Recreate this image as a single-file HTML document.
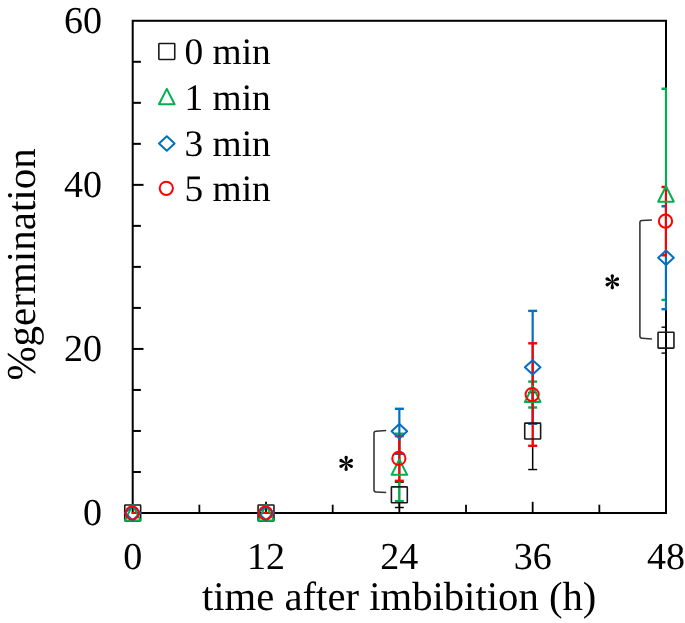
<!DOCTYPE html>
<html><head><meta charset="utf-8"><style>html,body{margin:0;padding:0;background:#fff;}body{width:685px;height:623px;overflow:hidden;font-family:"Liberation Serif",serif;}svg{display:block;will-change:transform;}text{text-rendering:geometricPrecision;}</style></head><body>
<svg width="685" height="623" viewBox="0 0 685 623" style="font-family:'Liberation Serif',serif" fill="#000">
<defs><clipPath id="pc"><rect x="131.70" y="20.78" width="535.30" height="493.22"/></clipPath></defs>
<rect x="132.70" y="20.78" width="533.30" height="492.22" fill="none" stroke="#000" stroke-width="2"/>
<line x1="132.70" y1="471.98" x2="140.90" y2="471.98" stroke="#000" stroke-width="2"/>
<line x1="132.70" y1="430.96" x2="140.90" y2="430.96" stroke="#000" stroke-width="2"/>
<line x1="132.70" y1="389.95" x2="140.90" y2="389.95" stroke="#000" stroke-width="2"/>
<line x1="132.70" y1="348.93" x2="143.50" y2="348.93" stroke="#000" stroke-width="2"/>
<line x1="132.70" y1="307.91" x2="140.90" y2="307.91" stroke="#000" stroke-width="2"/>
<line x1="132.70" y1="266.89" x2="140.90" y2="266.89" stroke="#000" stroke-width="2"/>
<line x1="132.70" y1="225.87" x2="140.90" y2="225.87" stroke="#000" stroke-width="2"/>
<line x1="132.70" y1="184.86" x2="143.50" y2="184.86" stroke="#000" stroke-width="2"/>
<line x1="132.70" y1="143.84" x2="140.90" y2="143.84" stroke="#000" stroke-width="2"/>
<line x1="132.70" y1="102.82" x2="140.90" y2="102.82" stroke="#000" stroke-width="2"/>
<line x1="132.70" y1="61.80" x2="140.90" y2="61.80" stroke="#000" stroke-width="2"/>
<line x1="199.36" y1="513.00" x2="199.36" y2="504.70" stroke="#000" stroke-width="1.8"/>
<line x1="266.02" y1="513.00" x2="266.02" y2="501.80" stroke="#000" stroke-width="1.8"/>
<line x1="332.69" y1="513.00" x2="332.69" y2="504.70" stroke="#000" stroke-width="1.8"/>
<line x1="399.35" y1="513.00" x2="399.35" y2="501.80" stroke="#000" stroke-width="1.8"/>
<line x1="466.01" y1="513.00" x2="466.01" y2="504.70" stroke="#000" stroke-width="1.8"/>
<line x1="532.67" y1="513.00" x2="532.67" y2="501.80" stroke="#000" stroke-width="1.8"/>
<line x1="599.34" y1="513.00" x2="599.34" y2="504.70" stroke="#000" stroke-width="1.8"/>
<text x="101.9" y="32.5" text-anchor="end" font-size="38">60</text>
<text x="101.9" y="197.0" text-anchor="end" font-size="38">40</text>
<text x="101.9" y="361.1" text-anchor="end" font-size="38">20</text>
<text x="101.9" y="524.8" text-anchor="end" font-size="38">0</text>
<text x="132.70" y="569" text-anchor="middle" font-size="38">0</text>
<text x="266.02" y="569" text-anchor="middle" font-size="38">12</text>
<text x="399.35" y="569" text-anchor="middle" font-size="38">24</text>
<text x="532.67" y="569" text-anchor="middle" font-size="38">36</text>
<text x="666.00" y="569" text-anchor="middle" font-size="38">48</text>
<text x="202" y="610.1" font-size="40.7">time after imbibition (h)</text>
<text transform="translate(34.9,380.6) rotate(-90)" font-size="41">%germination</text>
<g clip-path="url(#pc)"><line x1="129.70" y1="513.00" x2="135.70" y2="513.00" stroke="#FF0000" stroke-width="2.4"/><line x1="263.02" y1="513.00" x2="269.02" y2="513.00" stroke="#FF0000" stroke-width="2.4"/><line x1="399.35" y1="482.10" x2="399.35" y2="507.50" stroke="#000" stroke-width="1.5"/><line x1="394.85" y1="482.10" x2="403.85" y2="482.10" stroke="#000" stroke-width="1.4"/><line x1="394.85" y1="507.50" x2="403.85" y2="507.50" stroke="#000" stroke-width="1.4"/><line x1="399.35" y1="433.70" x2="399.35" y2="501.20" stroke="#00B050" stroke-width="2.2"/><line x1="394.85" y1="433.70" x2="403.85" y2="433.70" stroke="#00B050" stroke-width="2.4"/><line x1="394.85" y1="501.20" x2="403.85" y2="501.20" stroke="#00B050" stroke-width="2.4"/><line x1="399.35" y1="408.80" x2="399.35" y2="453.80" stroke="#0070C0" stroke-width="2.2"/><line x1="394.85" y1="408.80" x2="403.85" y2="408.80" stroke="#0070C0" stroke-width="2.4"/><line x1="394.85" y1="453.80" x2="403.85" y2="453.80" stroke="#0070C0" stroke-width="2.4"/><line x1="399.35" y1="436.10" x2="399.35" y2="480.80" stroke="#FF0000" stroke-width="2.2"/><line x1="394.85" y1="436.10" x2="403.85" y2="436.10" stroke="#FF0000" stroke-width="2.4"/><line x1="394.85" y1="480.80" x2="403.85" y2="480.80" stroke="#FF0000" stroke-width="2.4"/><line x1="532.67" y1="392.55" x2="532.67" y2="469.55" stroke="#000" stroke-width="1.5"/><line x1="528.17" y1="392.55" x2="537.17" y2="392.55" stroke="#000" stroke-width="1.4"/><line x1="528.17" y1="469.55" x2="537.17" y2="469.55" stroke="#000" stroke-width="1.4"/><line x1="532.67" y1="381.60" x2="532.67" y2="407.50" stroke="#00B050" stroke-width="2.2"/><line x1="528.17" y1="381.60" x2="537.17" y2="381.60" stroke="#00B050" stroke-width="2.4"/><line x1="528.17" y1="407.50" x2="537.17" y2="407.50" stroke="#00B050" stroke-width="2.4"/><line x1="532.67" y1="310.90" x2="532.67" y2="423.80" stroke="#0070C0" stroke-width="2.2"/><line x1="528.17" y1="310.90" x2="537.17" y2="310.90" stroke="#0070C0" stroke-width="2.4"/><line x1="528.17" y1="423.80" x2="537.17" y2="423.80" stroke="#0070C0" stroke-width="2.4"/><line x1="532.67" y1="343.30" x2="532.67" y2="445.80" stroke="#FF0000" stroke-width="2.2"/><line x1="528.17" y1="343.30" x2="537.17" y2="343.30" stroke="#FF0000" stroke-width="2.4"/><line x1="528.17" y1="445.80" x2="537.17" y2="445.80" stroke="#FF0000" stroke-width="2.4"/><line x1="666.00" y1="327.20" x2="666.00" y2="353.10" stroke="#000" stroke-width="1.5"/><line x1="661.50" y1="327.20" x2="670.50" y2="327.20" stroke="#000" stroke-width="1.4"/><line x1="661.50" y1="353.10" x2="670.50" y2="353.10" stroke="#000" stroke-width="1.4"/><line x1="666.00" y1="88.70" x2="666.00" y2="299.90" stroke="#00B050" stroke-width="2.2"/><line x1="661.50" y1="88.70" x2="670.50" y2="88.70" stroke="#00B050" stroke-width="2.4"/><line x1="661.50" y1="299.90" x2="670.50" y2="299.90" stroke="#00B050" stroke-width="2.4"/><line x1="666.00" y1="206.30" x2="666.00" y2="309.20" stroke="#0070C0" stroke-width="2.2"/><line x1="661.50" y1="206.30" x2="670.50" y2="206.30" stroke="#0070C0" stroke-width="2.4"/><line x1="661.50" y1="309.20" x2="670.50" y2="309.20" stroke="#0070C0" stroke-width="2.4"/><line x1="666.00" y1="187.00" x2="666.00" y2="255.30" stroke="#FF0000" stroke-width="2.2"/><line x1="661.50" y1="187.00" x2="670.50" y2="187.00" stroke="#FF0000" stroke-width="2.4"/><line x1="661.50" y1="255.30" x2="670.50" y2="255.30" stroke="#FF0000" stroke-width="2.4"/></g>
<rect x="124.75" y="505.05" width="15.9" height="15.9" rx="0.6" fill="none" stroke="#1a1a1a" stroke-width="1.6"/>
<rect x="258.07" y="505.05" width="15.9" height="15.9" rx="0.6" fill="none" stroke="#1a1a1a" stroke-width="1.6"/>
<rect x="391.40" y="486.85" width="15.9" height="15.9" rx="0.6" fill="none" stroke="#1a1a1a" stroke-width="1.6"/>
<rect x="524.72" y="423.10" width="15.9" height="15.9" rx="0.6" fill="none" stroke="#1a1a1a" stroke-width="1.6"/>
<rect x="658.05" y="332.20" width="15.9" height="15.9" rx="0.6" fill="none" stroke="#1a1a1a" stroke-width="1.6"/>
<path d="M132.70 505.00L140.50 520.40L124.90 520.40Z" fill="none" stroke="#00B050" stroke-width="2" stroke-linejoin="round"/>
<path d="M266.02 505.00L273.82 520.40L258.22 520.40Z" fill="none" stroke="#00B050" stroke-width="2" stroke-linejoin="round"/>
<path d="M399.35 459.45L407.15 474.85L391.55 474.85Z" fill="none" stroke="#00B050" stroke-width="2" stroke-linejoin="round"/>
<path d="M532.67 386.55L540.47 401.95L524.88 401.95Z" fill="none" stroke="#00B050" stroke-width="2" stroke-linejoin="round"/>
<path d="M666.00 186.30L673.80 201.70L658.20 201.70Z" fill="none" stroke="#00B050" stroke-width="2" stroke-linejoin="round"/>
<path d="M132.70 505.80L140.50 513.00L132.70 520.20L124.90 513.00Z" fill="none" stroke="#0070C0" stroke-width="2" stroke-linejoin="round"/>
<path d="M266.02 505.80L273.82 513.00L266.02 520.20L258.22 513.00Z" fill="none" stroke="#0070C0" stroke-width="2" stroke-linejoin="round"/>
<path d="M399.35 424.10L407.15 431.30L399.35 438.50L391.55 431.30Z" fill="none" stroke="#0070C0" stroke-width="2" stroke-linejoin="round"/>
<path d="M532.67 360.15L540.47 367.35L532.67 374.55L524.88 367.35Z" fill="none" stroke="#0070C0" stroke-width="2" stroke-linejoin="round"/>
<path d="M666.00 250.55L673.80 257.75L666.00 264.95L658.20 257.75Z" fill="none" stroke="#0070C0" stroke-width="2" stroke-linejoin="round"/>
<circle cx="132.20" cy="513.00" r="6.6" fill="none" stroke="#FF0000" stroke-width="2"/>
<circle cx="265.52" cy="513.00" r="6.6" fill="none" stroke="#FF0000" stroke-width="2"/>
<circle cx="398.85" cy="458.45" r="6.6" fill="none" stroke="#FF0000" stroke-width="2"/>
<circle cx="532.17" cy="394.55" r="6.6" fill="none" stroke="#FF0000" stroke-width="2"/>
<circle cx="665.50" cy="221.15" r="6.6" fill="none" stroke="#FF0000" stroke-width="2"/>
<rect x="158.85" y="43.55" width="15.9" height="15.9" rx="0.6" fill="none" stroke="#1a1a1a" stroke-width="1.6"/>
<text x="184.5" y="63.6" font-size="37.4">0 min</text>
<path d="M166.80 88.90L174.60 104.30L159.00 104.30Z" fill="none" stroke="#00B050" stroke-width="2" stroke-linejoin="round"/>
<text x="184.5" y="109.5" font-size="37.4">1 min</text>
<path d="M166.80 136.30L174.60 143.50L166.80 150.70L159.00 143.50Z" fill="none" stroke="#0070C0" stroke-width="2" stroke-linejoin="round"/>
<text x="184.5" y="156.2" font-size="37.4">3 min</text>
<circle cx="166.30" cy="188.30" r="6.6" fill="none" stroke="#FF0000" stroke-width="2"/>
<text x="184.5" y="200.6" font-size="37.4">5 min</text>
<path d="M386.2 430.6L376 431.2Q374 431.3 374 433.3L374 490Q374 491.8 376 491.9L386.2 492.4" fill="none" stroke="#333" stroke-width="1.55"/>
<path d="M651.9 220L642 220.5Q639.9 220.6 639.9 222.6L639.9 336Q639.9 338 642 338.2L651.9 339" fill="none" stroke="#333" stroke-width="1.55"/>
<g transform="translate(346.15,463.4)" fill="#000"><path d="M-0.35 0L-1.55 -5.2A1.7 1.7 0 1 1 1.55 -5.2L0.35 0Z" transform="rotate(0)"/><path d="M-0.35 0L-1.55 -5.2A1.7 1.7 0 1 1 1.55 -5.2L0.35 0Z" transform="rotate(60)"/><path d="M-0.35 0L-1.55 -5.2A1.7 1.7 0 1 1 1.55 -5.2L0.35 0Z" transform="rotate(120)"/><path d="M-0.35 0L-1.55 -5.2A1.7 1.7 0 1 1 1.55 -5.2L0.35 0Z" transform="rotate(180)"/><path d="M-0.35 0L-1.55 -5.2A1.7 1.7 0 1 1 1.55 -5.2L0.35 0Z" transform="rotate(240)"/><path d="M-0.35 0L-1.55 -5.2A1.7 1.7 0 1 1 1.55 -5.2L0.35 0Z" transform="rotate(300)"/></g>
<g transform="translate(612.3,281.8)" fill="#000"><path d="M-0.35 0L-1.55 -5.2A1.7 1.7 0 1 1 1.55 -5.2L0.35 0Z" transform="rotate(0)"/><path d="M-0.35 0L-1.55 -5.2A1.7 1.7 0 1 1 1.55 -5.2L0.35 0Z" transform="rotate(60)"/><path d="M-0.35 0L-1.55 -5.2A1.7 1.7 0 1 1 1.55 -5.2L0.35 0Z" transform="rotate(120)"/><path d="M-0.35 0L-1.55 -5.2A1.7 1.7 0 1 1 1.55 -5.2L0.35 0Z" transform="rotate(180)"/><path d="M-0.35 0L-1.55 -5.2A1.7 1.7 0 1 1 1.55 -5.2L0.35 0Z" transform="rotate(240)"/><path d="M-0.35 0L-1.55 -5.2A1.7 1.7 0 1 1 1.55 -5.2L0.35 0Z" transform="rotate(300)"/></g>
</svg>
</body></html>
